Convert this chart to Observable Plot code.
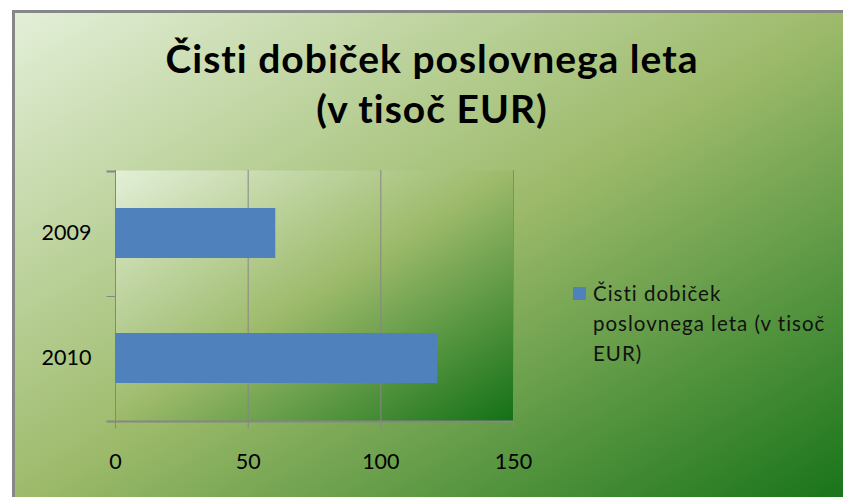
<!DOCTYPE html>
<html>
<head>
<meta charset="utf-8">
<script src="https://cdn.jsdelivr.net/npm/d3@7"></script>
<script src="https://cdn.jsdelivr.net/npm/@observablehq/plot@0.6"></script>
<style>
  html, body { margin: 0; padding: 0; background: #fff; }
  #root { position: relative; width: 843px; height: 497px; overflow: hidden; background: #fff; font-family: Lato, "Open Sans", sans-serif; }
  #frame { position: absolute; left: 12px; top: 10px; width: 838px; height: 492px;
    border-top: 3px solid #878787; border-left: 3px solid #878787;
    background: linear-gradient(to bottom right, #e3efd8 0%, #9cba6a 50%, #157218 100%); }
  #title { position: absolute; left: 15px; width: 834px; top: 33px; text-align: center;
    font-weight: bold; font-size: 39px; letter-spacing: 1px; line-height: 50px; color: #000; }
  #chart { position: absolute; left: 0; top: 150px; }
  #legend { position: absolute; left: 573px; top: 278px; }
  #legend .sw { position: absolute; left: 0; top: 9px; width: 13px; height: 13px; }
  #legend .txt { position: absolute; left: 20px; top: 0; font-size: 20.5px; letter-spacing: 1px; line-height: 30px; color: #111; white-space: nowrap; }
</style>
</head>
<body>
<div id="root">
  <div id="frame"></div>
  <div id="title"></div>
  <div id="chart"></div>
  <div id="legend"><div class="sw"></div><div class="txt"></div></div>
</div>
<script>
const titleLines = ["Čisti dobiček poslovnega leta", "(v tisoč EUR)"];
const years = ["2009", "2010"];
const values = [60.4, 121.4];
const xTicks = [0, 50, 100, 150];
const seriesName = "Čisti dobiček poslovnega leta (v tisoč EUR)";
const legendLines = ["Čisti dobiček", "poslovnega leta (v tisoč", "EUR)"];
const barColor = "#4f81bd";
const gridColor = "#868686";

document.getElementById("title").innerHTML = titleLines.join("<br>");
document.querySelector("#legend .sw").style.background = barColor;
document.querySelector("#legend .txt").innerHTML = legendLines.join("<br>");

const data = years.map((y, i) => ({year: y, value: values[i], series: seriesName}));

const chart = Plot.plot({
  width: 843,
  height: 347,
  marginLeft: 115,
  marginRight: 330,
  marginTop: 20,
  marginBottom: 75.5,
  style: {background: "transparent", fontFamily: "Lato, 'Open Sans', sans-serif", fontSize: "21.5px", color: "#000"},
  x: {domain: [0, 150], label: null},
  y: {domain: years, paddingInner: 0.6, paddingOuter: 0.3, label: null},
  marks: [
    Plot.frame({fill: "url(#plotGrad)", stroke: "none"}),
    Plot.ruleX(xTicks, {stroke: gridColor, strokeWidth: 1}),
    Plot.barX(data, {x: "value", y: "year", fill: barColor}),
    Plot.axisX({ticks: xTicks, tickSize: 7, tickPadding: 25, stroke: gridColor, fill: "#000", fontSize: 21.5, label: null, tickFormat: d => String(d)}),
    Plot.axisY({tickSize: 0, tickPadding: 24, fill: "#000", fontSize: 21.5, label: null})
  ]
});

const svg = d3.select(chart);
const defs = svg.insert("defs", ":first-child");
const grad = defs.append("linearGradient").attr("id", "plotGrad")
  .attr("x1", 0).attr("y1", 0).attr("x2", 1).attr("y2", 1);
[["0%", "#e3efd8"], ["50%", "#9cba6a"], ["100%", "#127016"]].forEach(([o, c]) =>
  grad.append("stop").attr("offset", o).attr("stop-color", c));

// axis lines and category boundary ticks, from the Plot scales
const xs = chart.scale("x");
const ys = chart.scale("y");
const x0 = xs.apply(0) + 0.5;
const x1 = xs.apply(150) + 0.5;
const yBottom = ys.range[1];
const half = (ys.step - ys.bandwidth) / 2;
const bounds = years.map(y => ys.apply(y) - half);
const g = svg.append("g").attr("stroke", gridColor);
bounds.forEach((b, i) => {
  g.append("line").attr("x1", x0 - 9).attr("x2", x0).attr("y1", Math.round(b) + 0.5).attr("y2", Math.round(b) + 0.5).attr("stroke-width", i === 0 ? 2 : 1);
});
g.append("line").attr("x1", x0 - 9).attr("x2", x1).attr("y1", yBottom).attr("y2", yBottom).attr("stroke-width", 2);

document.getElementById("chart").appendChild(chart);
</script>
</body>
</html>
